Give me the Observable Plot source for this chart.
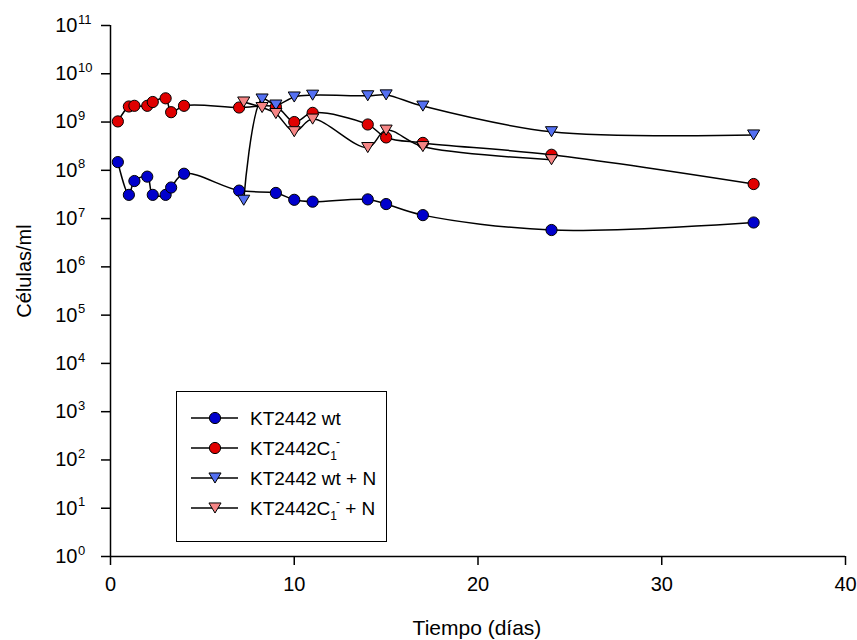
<!DOCTYPE html>
<html><head><meta charset="utf-8">
<script src="https://cdn.jsdelivr.net/npm/d3@7"></script>
<script src="https://cdn.jsdelivr.net/npm/@observablehq/plot@0.6"></script>
<style>
body{margin:0;background:#fff;font-family:"Liberation Sans",Arial,sans-serif}
#wrap{position:relative;width:857px;height:640px}
#overlay{position:absolute;left:0;top:0;pointer-events:none}
</style>
</head><body><div id="wrap"></div>
<script>
// ---- data ----
const xTicks = [0, 10, 20, 30, 40];
const yExponents = [0, 1, 2, 3, 4, 5, 6, 7, 8, 9, 10, 11];

const daysWt = [0.4, 1, 1.3, 2, 2.3, 3, 3.3, 4, 7, 9, 10, 11, 14, 15, 17, 24, 35];
const cellsWt = [1.48e8, 3.1e7, 6.0e7, 7.4e7, 3.1e7, 3.1e7, 4.4e7, 8.5e7, 3.8e7, 3.4e7, 2.45e7, 2.24e7, 2.5e7, 2.0e7, 1.18e7, 5.8e6, 8.3e6];

const daysC1 = [0.4, 1, 1.3, 2, 2.3, 3, 3.3, 4, 7, 9, 10, 11, 14, 15, 17, 24, 35];
const cellsC1 = [1.03e9, 2.1e9, 2.17e9, 2.17e9, 2.6e9, 3.1e9, 1.6e9, 2.17e9, 2.0e9, 2.07e9, 1.0e9, 1.55e9, 8.9e8, 4.8e8, 3.7e8, 2.1e8, 5.2e7];

const daysWtN = [7.25, 8.25, 9, 10, 11, 14, 15, 17, 24, 35];
const cellsWtN = [2.4e7, 3.0e9, 2.25e9, 3.3e9, 3.6e9, 3.5e9, 3.65e9, 2.14e9, 6.3e8, 5.4e8];

const daysC1N = [7.25, 8.25, 9, 10, 11, 14, 15, 17, 24];
const cellsC1N = [2.6e9, 2.0e9, 1.5e9, 6.3e8, 1.15e9, 2.96e8, 6.8e8, 3.1e8, 1.66e8];

const seriesNames = ["KT2442 wt", "KT2442C1-", "KT2442 wt + N", "KT2442C1- + N"];
const seriesColors = ["#0000cc", "#e00000", "#5470f2", "#f58585"];
const seriesShapes = ["circle", "circle", "tri", "tri"];

// ---- build ----
const rows = [
  daysWt.map((d, i) => ({s: 0, x: d, y: cellsWt[i]})),
  daysC1.map((d, i) => ({s: 1, x: d, y: cellsC1[i]})),
  daysWtN.map((d, i) => ({s: 2, x: d, y: cellsWtN[i]})),
  daysC1N.map((d, i) => ({s: 3, x: d, y: cellsC1N[i]}))
];

const triDown = {
  draw(ctx, size) {
    const r = Math.sqrt(size / Math.PI);
    ctx.moveTo(-1.08 * r, -0.9 * r);
    ctx.lineTo(1.08 * r, -0.9 * r);
    ctx.lineTo(0, 0.9 * r);
    ctx.closePath();
  }
};

const seriesMarks = rows.flatMap((data, k) => [
  Plot.line(data, {x: "x", y: "y", stroke: "black", strokeWidth: 1.5, curve: "catmull-rom"}),
  Plot.dot(data, {x: "x", y: "y", r: 5.6, fill: seriesColors[k], stroke: "black", strokeWidth: 1,
    symbol: seriesShapes[k] === "circle" ? "circle" : triDown})
]);

const chart = Plot.plot({
  width: 857, height: 640,
  marginLeft: 110, marginRight: 12, marginTop: 25, marginBottom: 84,
  style: {background: "#fff", color: "black", fontFamily: "'Liberation Sans', Arial, sans-serif"},
  x: {domain: [0, 40]},
  y: {type: "log", domain: [1, 1e11]},
  marks: [
    Plot.axisX({ticks: xTicks, tickSize: 9, tickPadding: 11, fontSize: 20, label: null, strokeWidth: 1.5, tickFormat: d => String(d)}),
    Plot.axisY({ticks: yExponents.map(e => 10 ** e), tickSize: 9, tickFormat: () => "", label: null, strokeWidth: 1.5}),
    Plot.text(yExponents, {x: 0, y: e => 10 ** e, text: () => "10", textAnchor: "end", dx: -33, fontSize: 20, frameAnchor: "left"}),
    Plot.text(yExponents, {x: 0, y: e => 10 ** e, text: e => String(e), textAnchor: "start", dx: -32.5, dy: -6, fontSize: 13}),
    Plot.ruleX([0], {stroke: "black", strokeWidth: 1.5}),
    Plot.ruleY([1], {stroke: "black", strokeWidth: 1.5}),
    ...seriesMarks
  ]
});
const wrap = document.getElementById("wrap");
wrap.appendChild(chart);

// ---- overlay: axis titles and legend ----
const ov = d3.select(wrap).append("svg").attr("id", "overlay").attr("width", 857).attr("height", 640)
  .attr("font-family", "'Liberation Sans', Arial, sans-serif");
ov.append("text").attr("x", 477).attr("y", 635).attr("text-anchor", "middle").attr("font-size", 21).text("Tiempo (días)");
ov.append("text").attr("transform", "translate(31,271) rotate(-90)").attr("text-anchor", "middle").attr("font-size", 20).text("Células/ml");

const lg = ov.append("g").attr("transform", "translate(176,391)");
lg.append("rect").attr("x", 0.5).attr("y", 0.5).attr("width", 210).attr("height", 150).attr("fill", "white").attr("stroke", "black").attr("stroke-width", 1);
const sym = d3.symbol().size(Math.PI * 5.6 * 5.6);
seriesNames.forEach((name, k) => {
  const y = 27 + k * 30;
  lg.append("line").attr("x1", 15).attr("x2", 62).attr("y1", y).attr("y2", y).attr("stroke", "black").attr("stroke-width", 1.5);
  lg.append("path").attr("transform", `translate(39,${y})`)
    .attr("d", seriesShapes[k] === "circle" ? sym.type(d3.symbolCircle)() : sym.type(triDown)())
    .attr("fill", seriesColors[k]).attr("stroke", "black").attr("stroke-width", 1);
  const t = lg.append("text").attr("x", 74).attr("y", y + 7).attr("font-size", 19);
  const m = name.match(/^(KT2442C)1-(.*)$/);
  if (m) {
    t.append("tspan").text(m[1]);
    t.append("tspan").attr("font-size", 12).attr("dy", 5).text("1");
    t.append("tspan").attr("font-size", 12).attr("dy", -14).attr("dx", -1).text("-");
    t.append("tspan").attr("dy", 9).text(m[2]);
  } else {
    t.text(name);
  }
});
</script>
</body></html>
